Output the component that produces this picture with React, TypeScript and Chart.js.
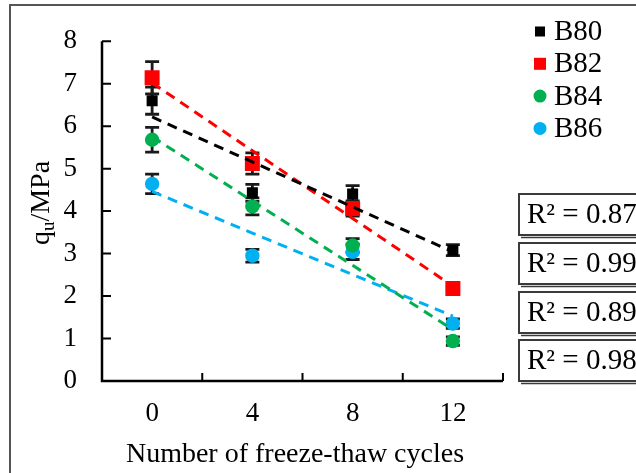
import React, { useEffect, useRef } from 'react';
import { Chart, registerables } from 'chart.js';
Chart.register(...registerables);

const categories = ['0', '4', '8', '12'];
const seriesNames = ['B80', 'B82', 'B84', 'B86'];
const b80 = [6.6, 4.43, 4.4, 3.08];
const b82 = [7.14, 5.12, 4.06, 2.18];
const b84 = [5.68, 4.11, 3.19, 0.94];
const b86 = [4.64, 2.95, 3.04, 1.35];
const b80Err = [0.32, 0.2, 0.2, 0.13];
const b82Err = [0.38, 0.25, 0.18, 0.05];
const b84Err = [0.29, 0.2, 0.16, 0.1];
const b86Err = [0.23, 0.15, 0.18, 0.11];
const r2Labels = ['R\u00B2 = 0.87', 'R\u00B2 = 0.99', 'R\u00B2 = 0.89', 'R\u00B2 = 0.98'];
const xTitle = 'Number of freeze-thaw cycles';
const yTitleMain = 'q';
const yTitleSub = 'u';
const yTitleRest = '/MPa';
const yMin = 0;
const yMax = 8;
const yStep = 1;

const seriesValues = [b80, b82, b84, b86];
const seriesErrors = [b80Err, b82Err, b84Err, b86Err];
const seriesColors = ['#000000', '#FF0000', '#00B050', '#00B0F0'];
const seriesShapes = ['rect', 'rect', 'circle', 'circle'];
const seriesRadius = [7.8, 10.6, 7.2, 7.2];

const FONT = "'Liberation Serif', 'Times New Roman', serif";

function trend(vals: number[]): number[] {
  const n = vals.length;
  const xs = vals.map((_, i) => i);
  const mx = xs.reduce((a, b) => a + b, 0) / n;
  const my = vals.reduce((a, b) => a + b, 0) / n;
  let sxy = 0;
  let sxx = 0;
  for (let i = 0; i < n; i++) {
    sxy += (xs[i] - mx) * (vals[i] - my);
    sxx += (xs[i] - mx) * (xs[i] - mx);
  }
  const k = sxy / sxx;
  return xs.map((x) => my + k * (x - mx));
}

const decorPlugin = {
  id: 'decor',
  beforeDraw(chart: any) {
    const ctx = chart.ctx;
    ctx.save();
    ctx.fillStyle = '#fff';
    ctx.fillRect(0, 0, chart.width, chart.height);
    ctx.strokeStyle = '#555';
    ctx.lineWidth = 2;
    ctx.strokeRect(10, 5, chart.width + 40, chart.height + 40);
    ctx.restore();
  },
  beforeDatasetsDraw(chart: any) {
    const ctx = chart.ctx;
    const xs = chart.scales.x;
    const ys = chart.scales.y;
    ctx.save();
    ctx.strokeStyle = '#1a1a1a';
    ctx.lineWidth = 2.8;
    seriesValues.forEach((vals, si) => {
      const errs = seriesErrors[si];
      vals.forEach((v, i) => {
        const px = xs.getPixelForValue(i);
        const top = ys.getPixelForValue(v + errs[i]);
        const bot = ys.getPixelForValue(v - errs[i]);
        ctx.beginPath();
        ctx.moveTo(px, top);
        ctx.lineTo(px, bot);
        ctx.moveTo(px - 7, top);
        ctx.lineTo(px + 7, top);
        ctx.moveTo(px - 7, bot);
        ctx.lineTo(px + 7, bot);
        ctx.stroke();
      });
    });
    ctx.restore();
  },
  afterDraw(chart: any) {
    const ctx = chart.ctx;
    const ca = chart.chartArea;
    const ys = chart.scales.y;
    ctx.save();
    // axes
    ctx.strokeStyle = '#000';
    ctx.lineWidth = 2.5;
    ctx.beginPath();
    ctx.moveTo(ca.left, ca.top);
    ctx.lineTo(ca.left, ca.bottom);
    ctx.lineTo(ca.right, ca.bottom);
    ctx.stroke();
    ctx.lineWidth = 2;
    ctx.beginPath();
    ys.ticks.forEach((t: any) => {
      const py = ys.getPixelForValue(t.value);
      ctx.moveTo(ca.left, py);
      ctx.lineTo(ca.left + 9, py);
    });
    const n = categories.length;
    for (let k = 1; k <= n; k++) {
      const px = ca.left + (k * (ca.right - ca.left)) / n;
      ctx.moveTo(px, ca.bottom);
      ctx.lineTo(px, ca.bottom - 8);
    }
    ctx.stroke();

    // legend
    ctx.textBaseline = 'middle';
    ctx.textAlign = 'left';
    ctx.font = `29px ${FONT}`;
    seriesNames.forEach((name, i) => {
      const cy = 31.5 + i * 32.3;
      ctx.fillStyle = seriesColors[i];
      if (seriesShapes[i] === 'rect') {
        const s = i === 0 ? 10 : 12;
        ctx.fillRect(540 - s / 2, cy - s / 2, s, s);
      } else {
        ctx.beginPath();
        ctx.arc(540, cy, 6.5, 0, Math.PI * 2);
        ctx.fill();
      }
      ctx.fillStyle = '#000';
      ctx.fillText(name, 554, cy + 1);
    });

    // R2 boxes
    const boxTops = [194, 243, 292, 340];
    r2Labels.forEach((lab, i) => {
      const top = boxTops[i];
      ctx.strokeStyle = '#3a3a3a';
      ctx.lineWidth = 2;
      ctx.strokeRect(519, top, 200, 41);
      ctx.lineWidth = 1.5;
      ctx.beginPath();
      ctx.moveTo(521, top + 43.5);
      ctx.lineTo(720, top + 43.5);
      ctx.stroke();
      ctx.fillStyle = '#000';
      ctx.font = `29px ${FONT}`;
      ctx.textBaseline = 'middle';
      ctx.fillText(lab, 527, top + 21.5);
    });

    // x title
    ctx.font = `28px ${FONT}`;
    ctx.textAlign = 'center';
    ctx.textBaseline = 'middle';
    ctx.fillStyle = '#000';
    ctx.fillText(xTitle, 295, 455);

    // y title with subscript
    ctx.translate(40, 203);
    ctx.rotate(-Math.PI / 2);
    const mainFont = `28px ${FONT}`;
    const subFont = `19px ${FONT}`;
    ctx.font = mainFont;
    const w1 = ctx.measureText(yTitleMain).width;
    const w3 = ctx.measureText(yTitleRest).width;
    ctx.font = subFont;
    const w2 = ctx.measureText(yTitleSub).width;
    let x0 = -(w1 + w2 + w3) / 2;
    ctx.textAlign = 'left';
    ctx.textBaseline = 'alphabetic';
    ctx.font = mainFont;
    ctx.fillText(yTitleMain, x0, 9);
    x0 += w1;
    ctx.font = subFont;
    ctx.fillText(yTitleSub, x0, 14);
    x0 += w2;
    ctx.font = mainFont;
    ctx.fillText(yTitleRest, x0, 9);
    ctx.restore();
  },
};

export default function App() {
  const ref = useRef<HTMLCanvasElement | null>(null);
  useEffect(() => {
    document.body.style.margin = '0';
    const canvas = ref.current;
    if (!canvas) return;
    const scatterSets = seriesValues.map((vals, i) => ({
      type: 'line' as const,
      label: seriesNames[i],
      data: vals,
      showLine: false,
      pointStyle: seriesShapes[i],
      pointRadius: seriesRadius[i],
      pointBackgroundColor: seriesColors[i],
      pointBorderColor: seriesColors[i],
      pointBorderWidth: 0,
      borderColor: seriesColors[i],
      backgroundColor: seriesColors[i],
      order: 2,
    }));
    const trendSets = seriesValues.map((vals, i) => ({
      type: 'line' as const,
      label: seriesNames[i] + ' trend',
      data: trend(vals),
      borderColor: seriesColors[i],
      borderWidth: 3,
      borderDash: [10, 7],
      pointRadius: 0,
      fill: false,
      order: 1,
    }));
    const chart = new Chart(canvas, {
      type: 'line',
      data: { labels: categories, datasets: [...scatterSets, ...trendSets] as any },
      options: {
        animation: false,
        responsive: false,
        devicePixelRatio: 1,
        layout: { padding: { left: 0, top: 27, right: 133, bottom: 0 } },
        plugins: { legend: { display: false }, tooltip: { enabled: false }, title: { display: false } },
        scales: {
          x: {
            type: 'category',
            offset: true,
            grid: { display: false, drawTicks: false, offset: true },
            border: { display: false },
            ticks: { color: '#000', font: { family: FONT, size: 27 }, padding: 17 },
            afterFit: (s: any) => {
              s.height = 92;
            },
          },
          y: {
            min: yMin,
            max: yMax,
            grid: { display: false, drawTicks: false },
            border: { display: false },
            ticks: { stepSize: yStep, color: '#000', font: { family: FONT, size: 27 }, padding: 25 },
            afterFit: (s: any) => {
              s.width = 102;
            },
          },
        },
      },
      plugins: [decorPlugin],
    });
    return () => chart.destroy();
  }, []);
  return <canvas ref={ref} width={636} height={473} style={{ display: 'block', width: 636, height: 473 }} />;
}
